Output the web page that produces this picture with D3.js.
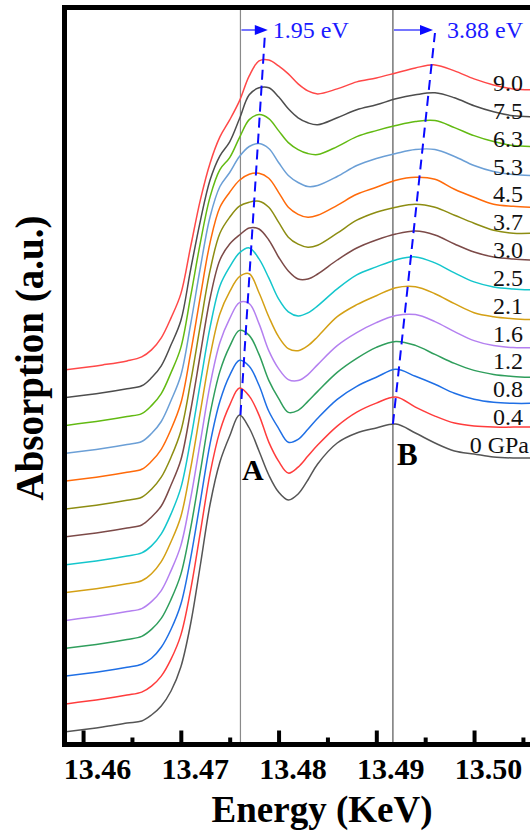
<!DOCTYPE html>
<html><head><meta charset="utf-8">
<script src="https://cdn.jsdelivr.net/npm/d3@7"></script>
<style>body{margin:0;background:#fff}svg{display:block}</style>
</head><body>
<svg id="c" width="530" height="834"></svg>
<script>
// ---------- DATA ----------
const energy = [13.4581,13.462,13.4645,13.466,13.467,13.468,13.469,13.470,13.471,13.472,13.473,13.474,13.475,13.476,13.477,13.478,13.479,13.480,13.481,13.482,13.483,13.484,13.486,13.488,13.490,13.492,13.494,13.496,13.498,13.500,13.502,13.504,13.506];
const pressureLabels = ["0 GPa","0.4","0.8","1.2","1.6","2.1","2.5","3.0","3.7","4.5","5.3","6.3","7.5","9.0"];
const offsets = [0,0.279,0.557,0.836,1.114,1.393,1.671,1.950,2.228,2.507,2.785,3.064,3.342,3.621];
const abs_0   = [0,.05,.09,.11,.17,.26,.41,.65,1.08,1.67,2.28,2.70,2.96,3.17,3.04,2.81,2.57,2.40,2.32,2.38,2.52,2.68,2.89,2.99,3.04,3.08,2.99,2.89,2.81,2.78,2.75,2.74,2.74];
const abs_0_4 = [0,.05,.09,.12,.18,.28,.45,.69,1.14,1.72,2.31,2.73,2.99,3.16,3.08,2.89,2.62,2.43,2.31,2.37,2.48,2.59,2.78,2.92,3.01,3.07,2.97,2.88,2.81,2.78,2.77,2.77,2.77];
const abs_0_8 = [0,.05,.09,.12,.18,.29,.47,.72,1.18,1.75,2.33,2.75,3.01,3.16,3.10,2.91,2.65,2.48,2.34,2.37,2.47,2.58,2.77,2.90,2.99,3.07,3.00,2.92,2.83,2.77,2.74,2.73,2.73];
const abs_1_2 = [0,.05,.09,.12,.19,.30,.49,.74,1.20,1.77,2.35,2.77,3.02,3.18,3.13,2.94,2.68,2.50,2.36,2.38,2.47,2.57,2.76,2.90,3.01,3.07,3.03,2.94,2.85,2.78,2.74,2.72,2.71];
const abs_1_6 = [0,.05,.09,.12,.19,.30,.50,.75,1.22,1.79,2.36,2.78,3.02,3.18,3.17,2.97,2.70,2.52,2.41,2.40,2.46,2.56,2.75,2.88,2.98,3.05,3.06,2.99,2.89,2.80,2.75,2.73,2.73];
const abs_2_1 = [0,.05,.09,.12,.19,.31,.51,.76,1.24,1.81,2.37,2.79,3.01,3.16,3.19,3.00,2.76,2.56,2.44,2.42,2.47,2.56,2.76,2.88,2.97,3.05,3.06,2.99,2.89,2.80,2.76,2.74,2.73];
const abs_2_5 = [0,.05,.09,.12,.19,.31,.51,.77,1.25,1.82,2.38,2.79,2.98,3.12,3.17,3.06,2.87,2.66,2.53,2.49,2.52,2.59,2.76,2.90,2.98,3.05,3.08,3.02,2.92,2.83,2.78,2.76,2.75];
const abs_3_0 = [0,.05,.09,.12,.20,.31,.52,.77,1.26,1.83,2.39,2.77,2.93,3.02,3.09,3.08,2.97,2.80,2.66,2.58,2.58,2.63,2.77,2.89,2.97,3.03,3.06,3.02,2.93,2.85,2.80,2.78,2.77];
const abs_3_7 = [0,.05,.09,.12,.20,.32,.52,.78,1.27,1.84,2.39,2.76,2.92,3.03,3.07,3.08,3.02,2.87,2.72,2.65,2.62,2.64,2.76,2.89,2.97,3.02,3.05,3.02,2.94,2.86,2.79,2.76,2.76];
const abs_4_5 = [0,.05,.09,.12,.20,.32,.52,.78,1.28,1.85,2.39,2.74,2.89,3.01,3.07,3.08,3.03,2.89,2.74,2.67,2.64,2.66,2.76,2.87,2.94,3.01,3.04,3.02,2.92,2.84,2.77,2.75,2.74];
const abs_5_3 = [0,.05,.09,.12,.20,.32,.53,.78,1.29,1.86,2.37,2.67,2.81,2.97,3.07,3.10,3.05,2.91,2.78,2.71,2.67,2.68,2.77,2.88,2.95,3.00,3.04,3.04,2.97,2.88,2.82,2.79,2.78];
const abs_6_3 = [0,.05,.09,.12,.20,.32,.53,.78,1.29,1.83,2.29,2.56,2.68,2.88,3.06,3.11,3.07,2.95,2.83,2.76,2.72,2.71,2.79,2.89,2.95,3.00,3.04,3.05,2.98,2.90,2.84,2.80,2.79];
const abs_7_5 = [0,.05,.09,.12,.20,.32,.53,.77,1.28,1.77,2.18,2.42,2.56,2.79,3.03,3.10,3.10,3.01,2.89,2.80,2.75,2.73,2.80,2.88,2.93,2.99,3.03,3.05,3.00,2.92,2.86,2.82,2.81];
const abs_9_0 = [0,.05,.09,.13,.20,.32,.52,.76,1.23,1.70,2.07,2.33,2.50,2.69,2.94,3.09,3.10,3.04,2.96,2.86,2.79,2.76,2.81,2.88,2.92,2.97,3.02,3.05,2.99,2.91,2.85,2.81,2.80];
const seriesValues = [abs_0,abs_0_4,abs_0_8,abs_1_2,abs_1_6,abs_2_1,abs_2_5,abs_3_0,abs_3_7,abs_4_5,abs_5_3,abs_6_3,abs_7_5,abs_9_0];
const colors = ["#555555","#ff3c3c","#1f6fe5","#2f9e5c","#b480f0","#d4a015","#14c6cc","#7c4a48","#8d8d12","#ff6a0a","#6b9fd6","#62ba12","#4d4d4d","#ff4848"];
const refEnergies = [13.4761, 13.4917];        // A and B reference lines
const refNames = ["A","B"];
const peakTrendA = [[13.4761,3.17],[13.4786,6.97]];
const peakTrendB = [[13.4917,3.08],[13.4960,6.99]];
const shiftArrowEnds = [13.4789, 13.4958];
const shiftLabels = ["1.95 eV","3.88 eV"];
const xMajor = [13.46,13.47,13.48,13.49,13.50];
const xMinor = [13.465,13.475,13.485,13.495,13.505];

// ---------- CHART ----------
const svg = d3.select("#c");
const F = "'Liberation Serif','Times New Roman',serif";
const x = d3.scaleLinear().domain([13.4581, 13.5060]).range([64.5, 532.7]);
const y = d3.scaleLinear().domain([-0.12, 7.245]).range([744, 7.5]);

svg.append("defs").append("clipPath").attr("id","clip")
  .append("rect").attr("x",66).attr("y",10).attr("width",470).attr("height",732);

// reference vertical lines
svg.append("line").attr("x1",x(refEnergies[0])).attr("x2",x(refEnergies[0]))
  .attr("y1",10).attr("y2",742).attr("stroke","#8a8a8a").attr("stroke-width",1.2);
svg.append("line").attr("x1",x(refEnergies[1])).attr("x2",x(refEnergies[1]))
  .attr("y1",10).attr("y2",742).attr("stroke","#333").attr("stroke-width",1);

// curves
const line = d3.line().x(d=>x(d[0])).y(d=>y(d[1])).curve(d3.curveCatmullRom.alpha(0.5));
const g = svg.append("g").attr("clip-path","url(#clip)");
seriesValues.forEach((vals,i)=>{
  const pts = energy.map((e,k)=>[e, vals[k] + offsets[i]]);
  g.append("path").attr("d",line(pts)).attr("fill","none")
    .attr("stroke",colors[i]).attr("stroke-width",1.5);
});

// dashed peak trend lines
const lin = d3.line().x(d=>x(d[0])).y(d=>y(d[1]));
[peakTrendA, peakTrendB].forEach(p=>{
  svg.append("path").attr("d",lin(p)).attr("fill","none").attr("stroke","#0a0aff")
    .attr("stroke-width",2).attr("stroke-dasharray","10,6");
});

// shift arrows
const arrowV = 7.02;
refEnergies.forEach((e,i)=>{
  const x0 = x(e), x1 = x(shiftArrowEnds[i]), yy = y(arrowV);
  svg.append("line").attr("x1",x0+1).attr("x2",x1-10).attr("y1",yy).attr("y2",yy)
    .attr("stroke","#2a2aff").attr("stroke-width",1.3);
  svg.append("path").attr("d",`M${x1},${yy} L${x1-13},${yy-5} L${x1-13},${yy+5} Z`).attr("fill","#0a0aff");
  svg.append("text").attr("x", x1 + (i===0?5:14)).attr("y", yy+8)
    .attr("font-family",F).attr("font-size",24).attr("fill","#1a1aff").text(shiftLabels[i]);
});

// A / B labels
svg.append("text").attr("x",x(refEnergies[0])+1.5).attr("y",480).attr("font-family",F)
  .attr("font-weight","bold").attr("font-size",30).text(refNames[0]);
svg.append("text").attr("x",x(refEnergies[1])+4).attr("y",465).attr("font-family",F)
  .attr("font-weight","bold").attr("font-size",31).text(refNames[1]);

// pressure labels
pressureLabels.forEach((t,i)=>{
  svg.append("text").attr("x", i===0 ? 529 : 523).attr("y", y(offsets[i]+2.79))
    .attr("text-anchor","end").attr("font-family",F).attr("font-size",24).attr("fill","#111").text(t);
});

// frame
svg.append("line").attr("x1",62).attr("x2",530).attr("y1",7.5).attr("y2",7.5).attr("stroke","#000").attr("stroke-width",5);
svg.append("line").attr("x1",64.5).attr("x2",64.5).attr("y1",5).attr("y2",747).attr("stroke","#000").attr("stroke-width",5);
svg.append("line").attr("x1",62).attr("x2",530).attr("y1",744.5).attr("y2",744.5).attr("stroke","#000").attr("stroke-width",5);

// axis ticks
const axMaj = svg.append("g").attr("transform","translate(0,744.5)")
  .call(d3.axisBottom(x).tickValues(xMajor).tickSize(-14).tickFormat(d3.format(".2f")));
axMaj.select(".domain").remove();
axMaj.selectAll(".tick line").attr("stroke","#000").attr("stroke-width",4);
axMaj.selectAll(".tick text").attr("y",34.5).attr("dy",0).attr("dx",14)
  .attr("font-family",F).attr("font-weight","bold").attr("font-size",30).attr("fill","#000");
const axMin = svg.append("g").attr("transform","translate(0,744.5)")
  .call(d3.axisBottom(x).tickValues(xMinor).tickSize(-7).tickFormat(""));
axMin.select(".domain").remove();
axMin.selectAll(".tick line").attr("stroke","#000").attr("stroke-width",4);

// axis titles
svg.append("text").attr("x",322).attr("y",822).attr("text-anchor","middle").attr("font-family",F)
  .attr("font-weight","bold").attr("font-size",37).text("Energy (KeV)");
svg.append("text").attr("transform","translate(43,358) rotate(-90)").attr("text-anchor","middle")
  .attr("font-family",F).attr("font-weight","bold").attr("font-size",39).text("Absorption (a.u.)");
</script>
</body></html>
